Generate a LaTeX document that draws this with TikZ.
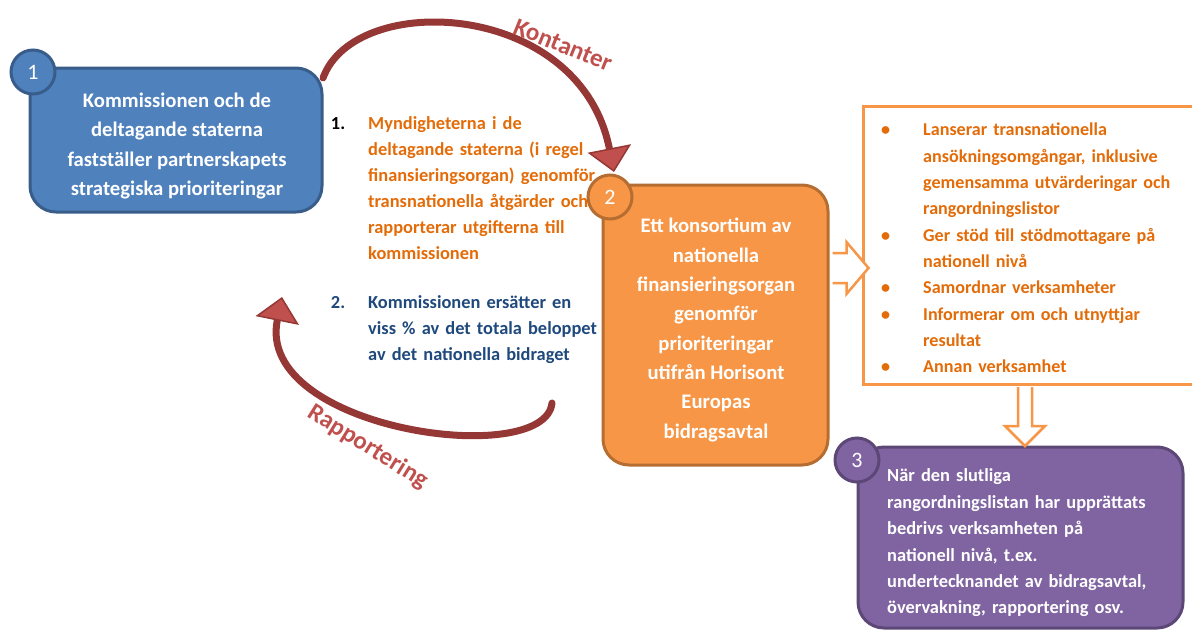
\documentclass[tikz,border=0pt]{standalone}
\usepackage{fontspec}
\setmainfont{Carlito}
\usetikzlibrary{arrows.meta}

\definecolor{boxblue}{HTML}{4F81BD}
\definecolor{boxblueline}{HTML}{385D8A}
\definecolor{boxorange}{HTML}{F79646}
\definecolor{boxorangeline}{HTML}{B66D31}
\definecolor{boxpurple}{HTML}{8064A2}
\definecolor{boxpurpleline}{HTML}{5C4776}
\definecolor{textorange}{HTML}{E36C09}
\definecolor{textblue}{HTML}{1F497D}
\definecolor{flowred}{HTML}{953735}
\definecolor{flowfill}{HTML}{C0504D}

\newcommand\taskitem{\leavevmode\llap{\textbullet\hspace{33pt}}}

\begin{document}
\begin{tikzpicture}[
    x=1pt, y=-1pt,
    stepbox/.style={draw, line width=3pt, rounded corners=26pt},
    boxtext/.style={inner sep=0pt, text=white, align=center,
                    font=\fontsize{20.7}{29.3}\selectfont\bfseries},
    numcirc/.style={circle, draw, line width=3pt, minimum size=44pt,
                    inner sep=0pt, text=white,
                    font=\fontsize{22}{22}\selectfont},
    sidetext/.style={anchor=west, inner sep=0pt, text width=240pt,
                     align=left, font=\fontsize{18.4}{26}\selectfont\bfseries},
    listbox/.style={draw=boxorange, line width=3pt, fill=white,
                    anchor=north west, minimum width=400pt, minimum height=278pt},
    blockarrow/.style={draw=boxorange, line width=2.5pt, fill=white,
                       line join=miter},
    cashflow/.style={draw=flowred, line width=7pt, line cap=round,
                     -{Triangle[length=24pt, width=44pt, line width=1.5pt,
                                fill=flowfill]}},
    flowlabel/.style={text=flowfill, font=\fontsize{25}{25}\selectfont\bfseries},
]

\path[use as bounding box, clip] (0,0) rectangle (1192,632);

\node [stepbox, fill=boxblue, draw=boxblueline,
       minimum width=292pt, minimum height=144pt] (box1) at (176,140) {};
\node [boxtext] (box1text) at (177,146)
      {Kommissionen och de\\deltagande staterna\\fastställer partnerskapets\\strategiska prioriteringar};
\node [numcirc, fill=boxblue, draw=boxblueline] (num1) at (33,72) {1};

\node [stepbox, fill=boxorange, draw=boxorangeline,
       minimum width=225pt, minimum height=280pt] (box2) at (715.5,325) {};
\node [boxtext] (box2text) at (716,330)
      {Ett konsortium av\\nationella\\finansieringsorgan\\genomför\\prioriteringar\\utifrån Horisont\\Europas\\bidragsavtal};
\node [numcirc, fill=boxorange, draw=boxorangeline] (num2) at (610,197) {2};

\node [listbox] (tasks) at (862,105) {};
\node [sidetext, text=textorange, text width=262pt,
       font=\fontsize{18.1}{26.3}\selectfont\bfseries] (taskstext) at (923,248)
      {\taskitem Lanserar transnationella\\
       ansökningsomgångar, inklusive\\
       gemensamma utvärderingar och\\
       rangordningslistor\\
       \taskitem Ger stöd till stödmottagare på\\
       nationell nivå\\
       \taskitem Samordnar verksamheter\\
       \taskitem Informerar om och utnyttjar\\
       resultat\\
       \taskitem Annan verksamhet};

\node [stepbox, fill=boxpurple, draw=boxpurpleline,
       minimum width=325pt, minimum height=181pt] (box3) at (1020.5,537.5) {};
\node [sidetext, text=white, text width=270pt,
       font=\fontsize{18.4}{26.4}\selectfont\bfseries] (box3text) at (887,543)
      {När den slutliga\\rangordningslistan har upprättats\\bedrivs verksamheten på\\nationell nivå, t.ex.\\undertecknandet av bidragsavtal,\\övervakning, rapportering osv.};
\node [numcirc, fill=boxpurple, draw=boxpurpleline] (num3) at (857,460) {3};

\node [sidetext, text=textorange] (spend) at (368,188)
      {\llap{\textcolor{black}{1.}\hspace{23pt}}Myndigheterna i de\\deltagande staterna (i regel\\finansieringsorgan) genomför\\transnationella åtgärder och\\rapporterar utgifterna till\\kommissionen};
\node [sidetext, text=textblue] (refund) at (368,330)
      {\llap{2.\hspace{23pt}}Kommissionen ersätter en\\viss \% av det totala beloppet\\av det nationella bidraget};

\coordinate (cashstart) at (323,78);
\coordinate (cashend) at (614,172);
\draw [cashflow] (cashstart) .. controls (355,-10) and (580,0) .. (cashend);
\node [flowlabel, rotate=-22] (cashlabel) at (563,45) {Kontanter};

\coordinate (reportstart) at (552,403);
\coordinate (reportend) at (282,297);
\draw [cashflow] (reportstart) .. controls (545,470) and (255,430) .. (reportend);
\node [flowlabel, rotate=-32] (reportlabel) at (368,447) {Rapportering};

\coordinate (right0) at (box2.east |- 0,268);
\draw [blockarrow] (right0) ++(3,-15) -- ++(14,0) -- ++(0,-11) -- ++(22,26)
      -- ++(-22,26) -- ++(0,-11) -- ++(-14,0);

\coordinate (down0) at (tasks.south -| 1025,0);
\draw [blockarrow] (down0) ++(-7,1) -- ++(0,39) -- ++(-13,0) -- ++(20,20)
      -- ++(20,-20) -- ++(-13,0) -- ++(0,-39);

\end{tikzpicture}
\end{document}
